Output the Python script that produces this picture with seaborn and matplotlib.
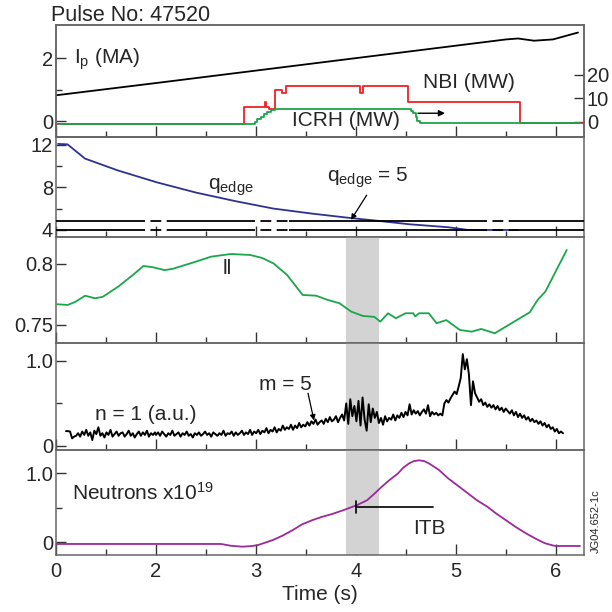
import numpy as np
import pandas as pd
import matplotlib
matplotlib.use("Agg")
import matplotlib.pyplot as plt
from matplotlib.ticker import FixedLocator, FixedFormatter
import seaborn as sns

# ---------------- data ----------------
ip_t = [0.0, 2.0, 5.5, 5.62, 5.78, 5.97, 6.22]
ip_v = [0.82, 1.21, 2.60, 2.63, 2.56, 2.60, 2.82]

nbi_t = [0.0, 2.881, 3.089, 3.102, 3.129, 3.195, 3.261, 3.300, 4.037, 4.069, 4.522, 5.644, 6.28]
nbi_v = [-0.7, 6.5, 8.6, 6.2, 5.4, 13.6, 12.2, 15.3, 12.2, 15.3, 8.4, -0.6, -0.6]

icrh_t = [0.06, 2.99, 3.013, 3.046, 3.079, 3.112, 3.145, 3.195, 4.554, 4.574, 4.597, 4.614, 4.64, 6.24]
icrh_v = [-1.0, 0.14, 1.13, 2.27, 3.26, 4.1, 5.1, 5.53, 4.8, 3.7, 2.3, 0.57, -0.3, -0.3]

q_t = [0.04, 0.23, 0.58, 1.24, 2.01, 2.40, 2.79, 3.17, 3.56, 3.95, 4.18, 4.53, 4.92, 5.12, 5.62]
q_v = [12.1, 12.06, 10.72, 9.6, 8.48, 7.52, 6.72, 6.02, 5.54, 5.12, 4.9, 4.54, 4.26, 4.0, 4.0]
q_ref_levels = [4.8, 4.0]
q_dash_spans = [(1.78, 2.16), (2.99, 3.33), (5.31, 5.60)]

li_t = [0.023, 0.233, 0.388, 0.583, 0.777, 0.932, 1.243, 1.553, 1.748, 1.942, 2.087, 2.165,
        2.398, 2.55, 2.748, 2.942, 3.06, 3.175, 3.311, 3.466, 3.602, 3.718, 3.835, 3.951, 4.068,
        4.184, 4.243, 4.320, 4.398, 4.495, 4.573, 4.592, 4.631, 4.728, 4.806, 4.903, 5.039,
        5.155, 5.252, 5.388, 5.738, 5.816, 5.893, 6.107]
li_v = [0.767, 0.7664, 0.769, 0.774, 0.7719, 0.773, 0.7814, 0.7915, 0.7984, 0.7973, 0.795, 0.796,
        0.8019, 0.806, 0.8082, 0.8074, 0.805, 0.8005, 0.791, 0.7746, 0.774, 0.7705, 0.7678, 0.761,
        0.7574, 0.7566, 0.7527, 0.7596, 0.7555, 0.7596, 0.7596, 0.757, 0.7596, 0.7596, 0.7514,
        0.754, 0.7459, 0.7445, 0.7467, 0.7432, 0.7604, 0.7705, 0.7773, 0.8115]

n1_early = [0.175, 0.175, 0.17, 0.09, 0.11, 0.12, 0.15, 0.11, 0.17, 0.13, 0.19, 0.12, 0.16, 0.07,
            0.18, 0.14, 0.22, 0.12, 0.15, 0.10, 0.16, 0.13, 0.19, 0.11, 0.14, 0.17, 0.12, 0.15,
            0.16, 0.11, 0.14, 0.18, 0.12, 0.15, 0.10, 0.14, 0.17, 0.12, 0.16, 0.13, 0.18, 0.11,
            0.15, 0.13, 0.16]
n1_late = [0.13, 0.16, 0.12, 0.17, 0.14, 0.11, 0.15, 0.13, 0.18, 0.12, 0.14, 0.16, 0.11, 0.15,
           0.13, 0.17, 0.12, 0.14, 0.10, 0.15, 0.13, 0.16, 0.12, 0.14, 0.17, 0.13, 0.15, 0.11,
           0.16, 0.14, 0.12, 0.15, 0.13, 0.18, 0.12, 0.15, 0.14, 0.17, 0.12, 0.16, 0.13, 0.15,
           0.18, 0.13, 0.16, 0.14, 0.19, 0.13, 0.17,
           0.15, 0.19, 0.14, 0.18, 0.16, 0.21, 0.15, 0.19, 0.17, 0.22, 0.16, 0.20, 0.18, 0.24,
           0.19, 0.22, 0.20, 0.25, 0.19, 0.24, 0.21, 0.27, 0.22, 0.25,
           0.23, 0.28, 0.24, 0.29, 0.26, 0.31, 0.25, 0.28, 0.30, 0.26, 0.32, 0.28, 0.34, 0.29,
           0.31, 0.35, 0.28, 0.33, 0.37, 0.30,
           0.50, 0.26, 0.55, 0.35, 0.47, 0.29, 0.53, 0.24, 0.57, 0.31, 0.18, 0.49, 0.28, 0.44,
           0.33, 0.40,
           0.27, 0.33, 0.25, 0.35, 0.29, 0.33, 0.31, 0.37, 0.30, 0.36, 0.33, 0.39, 0.34, 0.40,
           0.36, 0.49,
           0.37, 0.42, 0.38, 0.41, 0.36, 0.40, 0.43, 0.38, 0.48, 0.35, 0.40, 0.37, 0.39, 0.36,
           0.38, 0.36,
           0.50, 0.54, 0.51, 0.56, 0.60, 0.64, 0.61, 0.70,
           0.80, 1.08, 0.90, 1.02, 0.84, 0.48, 0.76, 0.62,
           0.57, 0.52, 0.55, 0.48, 0.51, 0.46, 0.49, 0.45, 0.48, 0.43, 0.47, 0.42, 0.45, 0.40, 0.44,
           0.41, 0.38, 0.42, 0.36, 0.40, 0.34, 0.38, 0.33, 0.36, 0.31, 0.34, 0.29, 0.32, 0.28, 0.30,
           0.26, 0.29, 0.24, 0.27, 0.22, 0.25, 0.20, 0.22, 0.17, 0.20, 0.15, 0.17, 0.15]
n1_early_range = (0.20, 1.98)
n1_late_range = (2.0, 6.07)

neu_t = [0.0, 2.65, 2.75, 2.864, 2.95, 3.02, 3.17, 3.27, 3.37, 3.46, 3.56, 3.66, 3.76, 3.88, 4.01,
         4.11, 4.18, 4.26, 4.34, 4.42, 4.47, 4.53, 4.58, 4.63, 4.68, 4.73, 4.83, 4.92, 5.02, 5.12,
         5.21, 5.31, 5.40, 5.50, 5.60, 5.70, 5.80, 5.89, 5.99, 6.24]
neu_v = [-0.024, -0.024, -0.05, -0.063, -0.055, -0.04, 0.034, 0.10, 0.18, 0.26, 0.32, 0.37, 0.41,
         0.47, 0.54, 0.61, 0.70, 0.81, 0.91, 1.0, 1.08, 1.145, 1.18, 1.19, 1.18, 1.145, 1.05, 0.93,
         0.82, 0.71, 0.61, 0.52, 0.42, 0.32, 0.22, 0.13, 0.05, -0.014, -0.053, -0.053]

itb_t = [4.0, 4.77]
itb_level = 0.516
shade_span = (3.9, 4.23)

x_major = [0, 2, 3, 4, 5, 6]
x_minor = [1, 2.5, 3.5, 4.5, 5.5]

# ---------------- style ----------------
sns.set_theme(style="ticks")
plt.rcParams['font.family'] = ['Liberation Sans', 'DejaVu Sans']
plt.rcParams['mathtext.fontset'] = 'custom'
plt.rcParams['mathtext.rm'] = 'Liberation Sans'
plt.rcParams['mathtext.it'] = 'Liberation Sans:italic'
plt.rcParams['mathtext.bf'] = 'Liberation Sans:bold'

FS = 15
TFS = 14.5
RED = '#ec2227'
GREEN = '#1aa64b'
BLUE = '#2e3192'
PURPLE = '#9b2a9c'
SPINE = '#666666'

W = H = 612
fig = plt.figure(figsize=(6.12, 6.12), dpi=100)
fig.patch.set_facecolor('white')


def rect(top, bottom, left=56, right=584):
    return [left / W, 1 - bottom / H, (right - left) / W, (bottom - top) / H]


def fwd(t):
    t = np.asarray(t, dtype=float)
    return np.where(t < 2, t / 2.0, t - 1.0)


def inv(u):
    u = np.asarray(u, dtype=float)
    return np.where(u < 1, u * 2.0, u + 1.0)


ax1 = fig.add_axes(rect(25, 136.7))
ax2 = fig.add_axes(rect(136.7, 237.3), sharex=ax1)
ax3 = fig.add_axes(rect(237.3, 343), sharex=ax1)
ax4 = fig.add_axes(rect(343, 450), sharex=ax1)
ax5 = fig.add_axes(rect(450, 555), sharex=ax1)
axes = [ax1, ax2, ax3, ax4, ax5]
ax1r = ax1.twinx()

# ---------- panel 1 ----------
sns.lineplot(x=ip_t, y=ip_v, ax=ax1, color='black', lw=1.3, estimator=None, sort=False)
sns.lineplot(x=nbi_t, y=nbi_v, ax=ax1r, color=RED, lw=1.3, estimator=None, sort=False,
             drawstyle='steps-post')
sns.lineplot(x=icrh_t, y=icrh_v, ax=ax1r, color=GREEN, lw=1.3, estimator=None, sort=False,
             drawstyle='steps-post')
ax1.set_ylim(-0.5, 3.06)
ax1r.set_ylim(-6.3, 41.3)
ax1.yaxis.set_major_locator(FixedLocator([0, 2]))
ax1.yaxis.set_major_formatter(FixedFormatter(['0', '2']))
ax1.yaxis.set_minor_locator(FixedLocator([1]))
ax1r.yaxis.set_major_locator(FixedLocator([0, 10, 20]))
ax1r.yaxis.set_major_formatter(FixedFormatter(['0', '10', '20']))
ax1.text(0.37, 1.82, r'I$_\mathrm{p}$ (MA)', fontsize=FS, va='baseline', ha='left')
ax1r.text(4.673, 14.3, 'NBI (MW)', fontsize=FS, va='baseline', ha='left')
ax1r.text(3.357, -1.7, 'ICRH (MW)', fontsize=FS, va='baseline', ha='left')
ax1r.annotate('', xy=(4.89, 3.7), xytext=(4.62, 3.7),
              arrowprops=dict(arrowstyle='-|>', lw=1.0, color='black', mutation_scale=9,
                              shrinkA=0, shrinkB=0))
fig.text(51 / W, 1 - 20.7 / H, 'Pulse No: 47520', fontsize=15.5, va='baseline', ha='left')

# ---------- panel 2 ----------
sns.lineplot(x=q_t, y=q_v, ax=ax2, color=BLUE, lw=1.3, estimator=None, sort=False, zorder=2)
x_lo, x_hi = 0.0, 6.28
for lev in q_ref_levels:
    edges = [x_lo]
    for a, b in q_dash_spans:
        edges += [a, b]
    edges.append(x_hi)
    for i in range(0, len(edges), 2):
        ax2.plot([edges[i], edges[i + 1]], [lev, lev], color='black', lw=1.3, zorder=3,
                 solid_capstyle='butt')
    for a, b in q_dash_spans:
        ax2.plot([a, b], [lev, lev], color='black', lw=1.3, zorder=3,
                 linestyle=(6, (6, 3)), dash_capstyle='butt')
ax2.set_ylim(3.31, 12.78)
ax2.yaxis.set_major_locator(FixedLocator([4, 8, 12]))
ax2.yaxis.set_major_formatter(FixedFormatter(['4', '8', '12']))
ax2.yaxis.set_minor_locator(FixedLocator([6, 10]))
ax2.text(2.52, 7.75, r'q$_\mathrm{edge}$', fontsize=FS, va='baseline', ha='left')
ax2.text(3.71, 8.5, r'q$_\mathrm{edge}$ = 5', fontsize=FS, va='baseline', ha='left')
ax2.annotate('', xy=(3.95, 4.95), xytext=(4.107, 7.28),
             arrowprops=dict(arrowstyle='-|>', lw=0.9, color='black', mutation_scale=8,
                             shrinkA=0, shrinkB=0))

# ---------- panel 3 ----------
sns.lineplot(x=li_t, y=li_v, ax=ax3, color=GREEN, lw=1.3, estimator=None, sort=False, zorder=3)
ax3.set_ylim(0.7352, 0.8219)
ax3.yaxis.set_major_locator(FixedLocator([0.75, 0.8]))
ax3.yaxis.set_major_formatter(FixedFormatter(['0.75', '0.8']))
ax3.text(2.71, 0.7918, 'll', fontsize=FS, va='baseline', ha='center')

# ---------- panel 4 ----------
n1_t = np.concatenate([np.linspace(*n1_early_range, len(n1_early)),
                       np.linspace(*n1_late_range, len(n1_late))])
n1_v = np.array(n1_early + n1_late)
sns.lineplot(x=n1_t, y=n1_v, ax=ax4, color='black', lw=1.4, estimator=None, sort=False, zorder=3)
ax4.set_ylim(-0.047, 1.21)
ax4.yaxis.set_major_locator(FixedLocator([0, 1.0]))
ax4.yaxis.set_major_formatter(FixedFormatter(['0', '1.0']))
ax4.yaxis.set_minor_locator(FixedLocator([0.5]))
ax4.text(0.78, 0.30, 'n = 1 (a.u.)', fontsize=FS, va='baseline', ha='left')
ax4.text(3.03, 0.66, 'm = 5', fontsize=FS, va='baseline', ha='left')
ax4.annotate('', xy=(3.58, 0.30), xytext=(3.52, 0.62),
             arrowprops=dict(arrowstyle='-|>', lw=0.9, color='black', mutation_scale=8,
                             shrinkA=0, shrinkB=0))

# ---------- panel 5 ----------
sns.lineplot(x=neu_t, y=neu_v, ax=ax5, color=PURPLE, lw=1.3, estimator=None, sort=False, zorder=3)
ax5.plot(itb_t, [itb_level, itb_level], color='black', lw=1.2, zorder=4)
ax5.plot([itb_t[0], itb_t[0]], [0.42, 0.60], color='black', lw=1.2, zorder=4)
ax5.set_ylim(-0.184, 1.34)
ax5.yaxis.set_major_locator(FixedLocator([0, 1.0]))
ax5.yaxis.set_major_formatter(FixedFormatter(['0', '1.0']))
ax5.yaxis.set_minor_locator(FixedLocator([0.5]))
ax5.text(0.33, 0.62, r'Neutrons x10$^{19}$', fontsize=FS, va='baseline', ha='left')
ax5.text(4.57, 0.116, 'ITB', fontsize=FS, va='baseline', ha='left')
ax5.set_xlabel('Time (s)', fontsize=FS, labelpad=3)

# shaded band
for ax in (ax3, ax4, ax5):
    ax.axvspan(*shade_span, color='#d3d3d3', lw=0, zorder=1)

# ---------- common axis styling ----------
for ax in axes:
    ax.set_xscale('function', functions=(fwd, inv))
for ax in axes + [ax1r]:
    ax.set_ylabel('')
    for s in ax.spines.values():
        s.set_color(SPINE)
        s.set_linewidth(1.1)
        s.set_visible(True)
    ax.set_facecolor('none')
ax1.set_zorder(2)
ax1r.set_zorder(3)

ax1.set_xlim(x_lo, x_hi)
for ax in axes:
    ax.xaxis.set_major_locator(FixedLocator(x_major))
    ax.xaxis.set_major_formatter(FixedFormatter([str(v) for v in x_major]))
    ax.xaxis.set_minor_locator(FixedLocator(x_minor))
    ax.tick_params(axis='x', which='major', direction='in', length=8, width=1.0,
                   color='#333333', labelsize=TFS, pad=5, top=False, bottom=True)
    ax.tick_params(axis='x', which='minor', direction='in', length=4, width=1.0,
                   color='#333333', top=False, bottom=True)
    ax.tick_params(axis='y', which='major', direction='in', length=7, width=1.0,
                   color='#333333', labelsize=TFS, pad=2, left=True, right=False)
    ax.tick_params(axis='y', which='minor', direction='in', length=4, width=1.0,
                   color='#333333', left=True, right=False)
    if ax is not ax5:
        ax.tick_params(axis='x', which='both', labelbottom=False)
ax1r.tick_params(axis='y', which='major', direction='in', length=7, width=1.0,
                 color='#333333', labelsize=TFS, pad=2, right=True, left=False)

fig.text(596 / W, 1 - 521 / H, 'JG04.652-1c', fontsize=8, rotation=90,
         va='center', ha='center')

fig.savefig('out.png', dpi=100, facecolor='white')
